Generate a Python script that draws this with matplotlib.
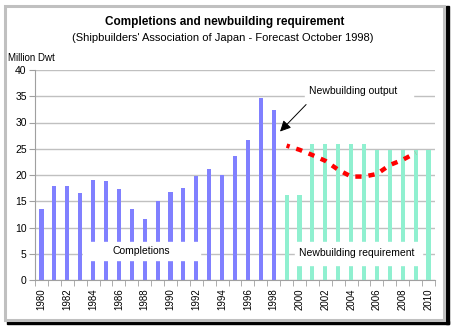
import numpy as np
import matplotlib
matplotlib.use("Agg")
import matplotlib.pyplot as plt
from matplotlib.patches import Rectangle

plt.rcParams['font.family'] = ['Liberation Sans', 'DejaVu Sans']
plt.rcParams['lines.scale_dashes'] = False

# data (million dwt)
years = list(range(1980, 2011))
completions = [13.5, 17.9, 17.9, 16.6, 19.0, 18.9, 17.3, 13.5, 11.6, 15.0,
               16.7, 17.5, 19.8, 21.1, 20.0, 23.6, 26.6, 34.7, 32.4]
requirement = [16.1, 16.1, 26.0, 26.0, 26.0, 26.0, 26.0, 24.7, 24.7, 24.7,
               24.7, 24.7]
output = [25.6, 24.8, 23.8, 22.7, 21.0, 19.7, 19.7, 20.2, 21.9, 22.9, 24.2]

comp_x = np.arange(len(completions))
req_x = np.arange(len(completions), len(completions) + len(requirement))
out_x = np.arange(len(completions), len(completions) + len(output))

fig = plt.figure(figsize=(4.52, 3.28), dpi=100)
ax = fig.add_axes([35 / 452, 48 / 328, 400 / 452, 210 / 328])

ax.bar(comp_x, completions, width=0.32, color='#8080FF', zorder=2)
ax.bar(req_x, requirement, width=0.32, color='#90F0D0', zorder=2)
ax.plot(out_x, output, color='#FF0000', lw=3.2, linestyle=(2.2, (4.5, 5.0)), zorder=4)

# white label boxes cutting through the bars
ax.add_patch(Rectangle((3.22, 3.8), 9.07, 3.5, color='white', zorder=3))
ax.add_patch(Rectangle((19.65, 2.9), 9.85, 4.4, color='white', zorder=3))
ax.add_patch(Rectangle((20.43, 34.4), 8.4, 3.3, color='white', zorder=3))
ax.text(7.76, 5.6, 'Completions', ha='center', va='center', fontsize=7.5, zorder=5)
ax.text(24.46, 5.2, 'Newbuilding requirement', ha='center', va='center', fontsize=7.5, zorder=5)
ax.text(24.15, 36.05, 'Newbuilding output', ha='center', va='center', fontsize=7.5, zorder=5)
ax.annotate('', xy=(18.34, 27.9), xytext=(20.66, 33.8),
            arrowprops=dict(arrowstyle='-|>', color='black', lw=0.7,
                            mutation_scale=16), zorder=5)

ax.set_xlim(-0.5, len(years) - 0.5)
ax.set_ylim(0, 40)
ax.set_yticks(np.arange(0, 41, 5))
ax.yaxis.grid(True, color='#C0C0C0', lw=1)
ax.set_axisbelow(True)
ax.set_xticks(np.arange(0, len(years), 2))
ax.set_xticklabels([str(y) for y in years[::2]], rotation=90, fontsize=7)
ax.set_xticks(np.arange(-0.5, len(years), 1), minor=True)
ax.tick_params(axis='x', which='major', length=0, pad=6)
ax.tick_params(axis='x', which='minor', length=4, color='#A0A0A0')
ax.tick_params(axis='y', length=4, color='#A0A0A0', labelsize=7.5, pad=2)
for s in ['top', 'right']:
    ax.spines[s].set_visible(False)
for s in ['left', 'bottom']:
    ax.spines[s].set_color('#A0A0A0')

fig.text(225 / 452, 1 - 22 / 328, 'Completions and newbuilding requirement',
         ha='center', va='center', fontsize=8.5, fontweight='bold')
fig.text(223 / 452, 1 - 38 / 328, "(Shipbuilders' Association of Japan - Forecast October 1998)",
         ha='center', va='center', fontsize=8)
fig.text(8 / 452, 1 - 58 / 328, 'Million Dwt', ha='left', va='center', fontsize=7)

# chart frame with shadow
fig.patches.append(Rectangle((446 / 452, 1 - 324 / 328), 3 / 452, 318 / 328,
                             transform=fig.transFigure, color='black'))
fig.patches.append(Rectangle((7 / 452, 1 - 324 / 328), 442 / 452, 3 / 328,
                             transform=fig.transFigure, color='black'))
fig.patches.append(Rectangle((5.5 / 452, 1 - 319.5 / 328), 439 / 452, 314 / 328,
                             transform=fig.transFigure, fill=False,
                             edgecolor='#C0C0C0', lw=2.2))

fig.savefig('out.png', dpi=100)
